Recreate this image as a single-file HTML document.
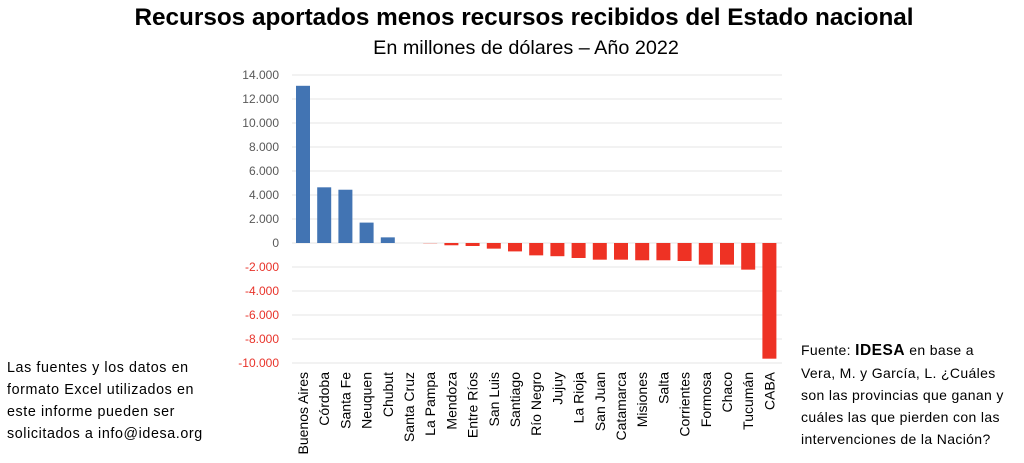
<!DOCTYPE html>
<html><head><meta charset="utf-8"><style>
body{margin:0;background:#fff;width:1024px;height:463px;overflow:hidden;font-family:"Liberation Sans",sans-serif}
.t{position:absolute;font-size:14.3px;line-height:22px;color:#000}
</style></head><body>
<svg width="1024" height="463" style="position:absolute;left:0;top:0" font-family="Liberation Sans, sans-serif">
<text x="524" y="25" text-anchor="middle" font-size="24.3" font-weight="bold">Recursos aportados menos recursos recibidos del Estado nacional</text>
<text x="526" y="54" text-anchor="middle" font-size="19.8">En millones de dólares – Año 2022</text>
<g id="g"></g>
</svg>
<div class="t" style="left:7px;top:357px;letter-spacing:0.6px">Las fuentes y los datos en<br>formato Excel utilizados en<br>este informe pueden ser<br>solicitados a info@idesa.org</div>
<div class="t" style="left:801px;top:339px;font-size:14px;letter-spacing:0.35px">Fuente: <b style="font-size:15.5px;letter-spacing:0.5px">IDESA</b> en base a<br>Vera, M. y García, L. ¿Cuáles<br>son las provincias que ganan y<br>cuáles las que pierden con las<br>intervenciones de la Nación?</div>
<script>
var g=document.getElementById('g'),s='';
var y0=243,k=0.012;
for(var v=-10000;v<=14000;v+=2000){var y=y0-v*k;
s+='<line x1="292" x2="782" y1="'+y+'" y2="'+y+'" stroke="#e6e6e6" stroke-width="1"/>';
var l=v==0?'0':(v<0?'-':'')+(Math.abs(v)/1000).toFixed(3);
s+='<text x="279" y="'+(y+4)+'" text-anchor="end" font-size="12" fill="'+(v<0?'#e8332a':'#595959')+'">'+l+'</text>';}
var n=["Buenos Aires","Córdoba","Santa Fe","Neuquen","Chubut","Santa Cruz","La Pampa","Mendoza","Entre Ríos","San Luis","Santiago","Río Negro","Jujuy","La Rioja","San Juan","Catamarca","Misiones","Salta","Corrientes","Formosa","Chaco","Tucumán","CABA"];
var d=[13100,4640,4440,1700,470,0,-20,-190,-250,-470,-700,-1030,-1100,-1250,-1390,-1390,-1440,-1440,-1500,-1800,-1800,-2220,-9640];
for(var i=0;i<23;i++){var x=296+i*21.2,h=Math.abs(d[i])*k,c=d[i]>=0?'#4274b3':'#ee3224';
var y=d[i]>=0?y0-h:y0;
if(h>0)s+='<rect x="'+x+'" y="'+y+'" width="14" height="'+h+'" fill="'+c+'"/>';
var cx=x+7+5;
s+='<text transform="translate('+cx+',372) rotate(-90)" text-anchor="end" font-size="14" fill="#000">'+n[i]+'</text>';}
g.innerHTML=s;
</script>
</body></html>
